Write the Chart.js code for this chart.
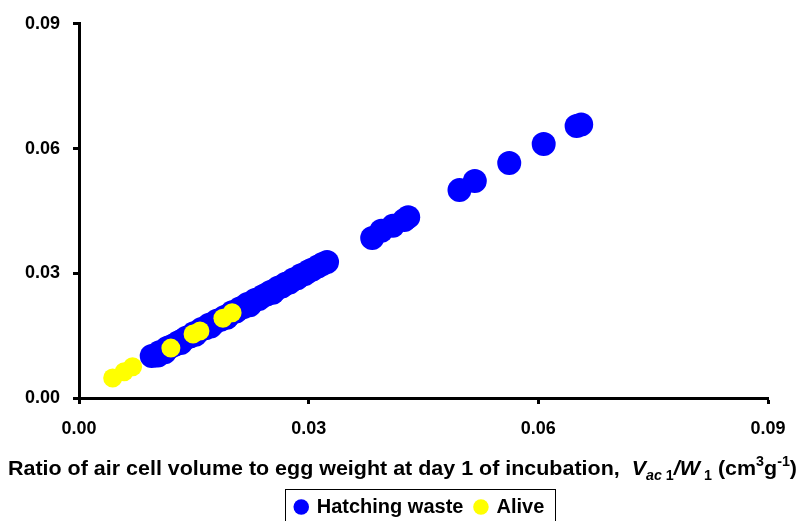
<!DOCTYPE html>
<html>
<head>
<meta charset="utf-8">
<script src="https://cdn.jsdelivr.net/npm/chart.js@4.4.1/dist/chart.umd.min.js"></script>
<style>
	html, body { margin: 0; padding: 0; background: #fff; }
	#box { width: 800px; height: 521px; }
</style>
</head>
<body>
<div id="box"><canvas id="eggChart"></canvas></div>
<script>
/* Data */
var wasteX = [0.0095, 0.0100, 0.0103, 0.0105, 0.0110, 0.0112, 0.0115, 0.0120, 0.0125, 0.0130, 0.0133, 0.0135, 0.0140, 0.0145,
	0.0150, 0.0152, 0.0155, 0.0160, 0.0165, 0.0170, 0.0172, 0.0175, 0.0180, 0.0185, 0.0190, 0.0193, 0.0195, 0.0200,
	0.0205, 0.0210, 0.0215, 0.0220, 0.0223, 0.0225, 0.0230, 0.0235, 0.0240, 0.0245, 0.0250, 0.0253, 0.0255, 0.0260,
	0.0265, 0.0270, 0.0275, 0.0280, 0.0285, 0.0290, 0.0295, 0.0300, 0.0305, 0.0312, 0.0318, 0.0324,
	0.0383, 0.0395, 0.0410, 0.0425, 0.0430, 0.0497, 0.0517, 0.0562, 0.0607, 0.0650, 0.0656];
var wasteY = [0.0101, 0.0103, 0.0102, 0.0110, 0.0112, 0.0110, 0.0120, 0.0124, 0.0128, 0.0134, 0.0132, 0.0138, 0.0145, 0.0148,
	0.0156, 0.0152, 0.0158, 0.0166, 0.0168, 0.0176, 0.0172, 0.0178, 0.0186, 0.0188, 0.0195, 0.0193, 0.0198, 0.0206,
	0.0208, 0.0215, 0.0219, 0.0226, 0.0223, 0.0228, 0.0236, 0.0238, 0.0245, 0.0249, 0.0255, 0.0253, 0.0258, 0.0265,
	0.0268, 0.0275, 0.0278, 0.0285, 0.0288, 0.0295, 0.0298, 0.0305, 0.0309, 0.0316, 0.0322, 0.0327,
	0.0385, 0.0402, 0.0414, 0.0428, 0.0435, 0.0500, 0.0522, 0.0565, 0.0611, 0.0654, 0.0658];
var aliveX = [0.0044, 0.0059, 0.0070, 0.0120, 0.0149, 0.0158, 0.0188, 0.0200];
var aliveY = [0.0048, 0.0063, 0.0075, 0.0120, 0.0154, 0.0161, 0.0192, 0.0205];

var seriesNames = ["Hatching waste", "Alive"];
var tickValues = [0, 0.03, 0.06, 0.09];

var fontFamily = "'Liberation Sans', Arial, sans-serif";

function toPoints(xs, ys) {
	var pts = [];
	for (var i = 0; i < xs.length; i++) {
		pts.push({ x: xs[i], y: ys[i] });
	}
	return pts;
}

function setTicks(scale) {
	scale.ticks = tickValues.map(function (v) { return { value: v }; });
}

/* legend shift + frame, and the x axis title with sub/superscripts */
var extrasPlugin = {
	id: "extras",
	afterLayout: function (chart) {
		var lg = chart.legend;
		if (lg) {
			lg.left += 36; lg.right += 36;
			lg.top += 7; lg.bottom += 7;
		}
	},
	afterDraw: function (chart) {
		var ctx = chart.ctx;
		var lg = chart.legend;
		ctx.save();
		if (lg && lg.legendHitBoxes && lg.legendHitBoxes.length) {
			var l = Infinity, r = -Infinity, t = Infinity, b = -Infinity;
			lg.legendHitBoxes.forEach(function (h) {
				l = Math.min(l, h.left); r = Math.max(r, h.left + h.width);
				t = Math.min(t, h.top); b = Math.max(b, h.top + h.height);
			});
			ctx.strokeStyle = "#000";
			ctx.lineWidth = 1;
			ctx.strokeRect(Math.round(l - 11) + 0.5, Math.round(t - 8) + 0.5, Math.round(r - l + 21), Math.round(b - t + 15));
		}

		var big = "bold 21px " + fontFamily;
		var bigIt = "italic bold 21px " + fontFamily;
		var small = "bold 14px " + fontFamily;
		var smallIt = "italic bold 14px " + fontFamily;
		var pieces = [
			{ s: "Ratio of air cell volume to egg weight at day 1 of incubation,  ", f: big, dy: 0 },
			{ s: "V", f: bigIt, dy: 0 },
			{ s: "ac", f: smallIt, dy: 5 },
			{ s: " 1", f: small, dy: 5 },
			{ s: "/", f: bigIt, dy: 0 },
			{ s: "W", f: bigIt, dy: 0 },
			{ s: " 1", f: small, dy: 5 },
			{ s: " (cm", f: big, dy: 0 },
			{ s: "3", f: small, dy: -9 },
			{ s: "g", f: big, dy: 0 },
			{ s: "-1", f: small, dy: -9 },
			{ s: ")", f: big, dy: 0 }
		];
		var total = 0;
		pieces.forEach(function (p) { ctx.font = p.f; p.w = ctx.measureText(p.s).width; total += p.w; });
		var target = 789;
		var sx = target / total;
		var x0 = 8, base = 475;
		ctx.translate(x0, base);
		ctx.scale(sx, 1);
		ctx.fillStyle = "#000";
		ctx.textBaseline = "alphabetic";
		ctx.textAlign = "left";
		var x = 0;
		pieces.forEach(function (p) {
			ctx.font = p.f;
			ctx.fillText(p.s, x, p.dy);
			x += p.w;
		});
		ctx.restore();
	}
};

window.addEventListener("DOMContentLoaded", function () {
	var ctx = document.getElementById("eggChart").getContext("2d");
	var data = {
		datasets: [
			{
				label: seriesNames[0],
				data: toPoints(wasteX, wasteY),
				backgroundColor: "#0000ff",
				borderColor: "#0000ff",
				borderWidth: 0,
				pointRadius: 12,
				order: 2
			},
			{
				label: seriesNames[1],
				data: toPoints(aliveX, aliveY),
				backgroundColor: "#ffff00",
				borderColor: "#ffff00",
				borderWidth: 0,
				pointRadius: 9.5,
				order: 1
			}
		]
	};
	var options = {
		responsive: true,
		maintainAspectRatio: false,
		animation: false,
		layout: { padding: { left: 0, right: 32, top: 23, bottom: 1 } },
		plugins: {
			tooltip: { enabled: false },
			legend: {
				position: "bottom",
				labels: {
					usePointStyle: true,
					pointStyle: "circle",
					boxWidth: 11,
					boxHeight: 11,
					padding: 12,
					color: "#000",
					font: { family: fontFamily, size: 20, weight: "bold" },
					sort: function (a, b) { return a.datasetIndex - b.datasetIndex; }
				}
			}
		},
		scales: {
			x: {
				type: "linear",
				min: 0,
				max: 0.09,
				afterBuildTicks: setTicks,
				afterFit: function (scale) { scale.height = 80; },
				border: { display: true, color: "#000", width: 3 },
				grid: { drawOnChartArea: false, tickColor: "#000", tickWidth: 3, tickLength: 6 },
				ticks: {
					padding: 14,
					color: "#000",
					font: { family: fontFamily, size: 18, weight: "bold" },
					callback: function (v) { return Number(v).toFixed(2); }
				}
			},
			y: {
				type: "linear",
				min: 0,
				max: 0.09,
				afterBuildTicks: setTicks,
				afterFit: function (scale) { scale.width = 79; },
				border: { display: true, color: "#000", width: 3 },
				grid: { drawOnChartArea: false, tickColor: "#000", tickWidth: 3, tickLength: 6 },
				ticks: {
					padding: 13,
					color: "#000",
					font: { family: fontFamily, size: 18, weight: "bold" },
					callback: function (v) { return Number(v).toFixed(2); }
				}
			}
		}
	};
	var eggChart = new Chart(ctx, {
		type: "scatter",
		data: data,
		options: options,
		plugins: [extrasPlugin]
	});
}, false);
</script>
</body>
</html>
